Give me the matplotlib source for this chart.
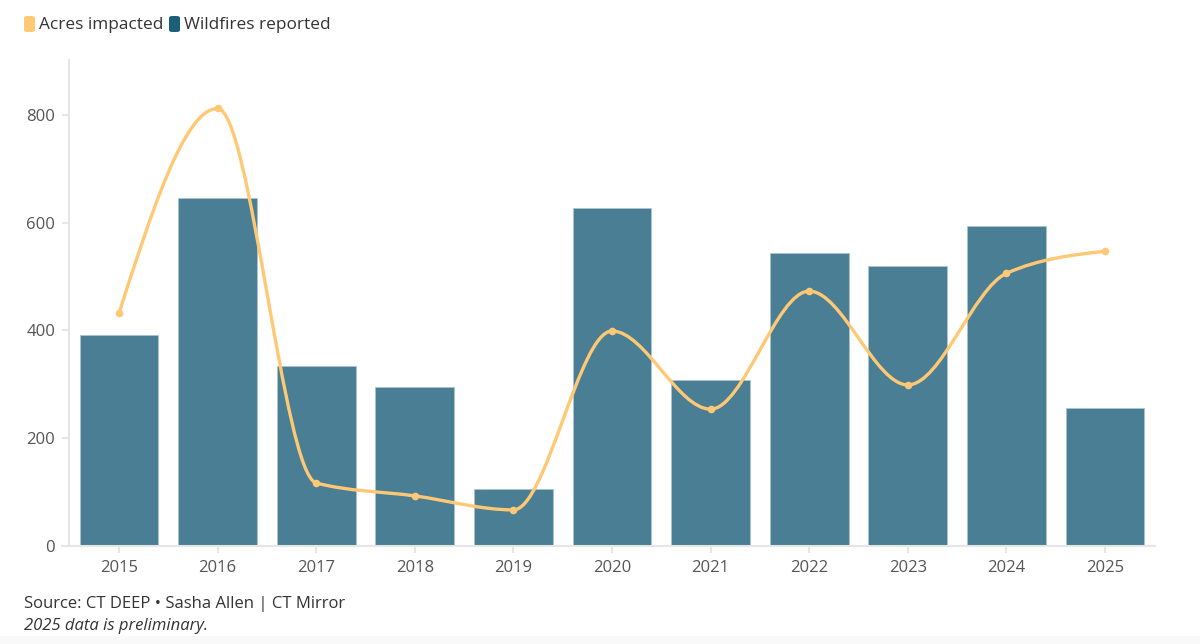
import numpy as np
import matplotlib.pyplot as plt
from matplotlib.path import Path
from matplotlib.patches import PathPatch, FancyBboxPatch
from matplotlib.lines import Line2D

plt.rcParams['font.family'] = ['Open Sans', 'DejaVu Sans']

# data
years = ['2015', '2016', '2017', '2018', '2019', '2020', '2021', '2022', '2023', '2024', '2025']
wildfires = [391, 646, 334, 295, 106, 627, 308, 544, 520, 594, 256]
acres = [432, 812, 117, 93, 67, 399, 254, 473, 299, 506, 547]

bar_color = '#497e94'
line_color = '#ffc875'
text_color = '#555555'
axis_color = '#e6e6e6'


def monotone_path(xs, ys):
    # monotone cubic curve (like d3 curveMonotoneX) as bezier path
    xs = np.asarray(xs, float)
    ys = np.asarray(ys, float)
    n = len(xs)
    h = np.diff(xs)
    s = np.diff(ys) / h
    t = np.zeros(n)
    for i in range(1, n - 1):
        p = (s[i - 1] * h[i] + s[i] * h[i - 1]) / (h[i - 1] + h[i])
        t[i] = (np.sign(s[i - 1]) + np.sign(s[i])) * min(abs(s[i - 1]), abs(s[i]), 0.5 * abs(p))
    t[0] = (3 * s[0] - t[1]) / 2
    t[-1] = (3 * s[-1] - t[-2]) / 2
    verts = [(xs[0], ys[0])]
    codes = [Path.MOVETO]
    for i in range(n - 1):
        dx = h[i] / 3
        verts += [(xs[i] + dx, ys[i] + dx * t[i]),
                  (xs[i + 1] - dx, ys[i + 1] - dx * t[i + 1]),
                  (xs[i + 1], ys[i + 1])]
        codes += [Path.CURVE4] * 3
    return Path(verts, codes)


fig = plt.figure(figsize=(12, 6.44), dpi=100)
W, H = 1200, 644
ax = fig.add_axes([69 / W, (H - 546) / H, (1155 - 69) / W, (546 - 60) / H])

x = np.arange(len(years))
ax.bar(x, wildfires, width=0.8, color=bar_color, edgecolor='#a9c4d1', linewidth=0.6, zorder=2)

ax.add_patch(PathPatch(monotone_path(x, acres), facecolor='none', edgecolor=line_color,
                       linewidth=2.4, capstyle='round', zorder=3))
ax.scatter(x, acres, s=30, color=line_color, zorder=4, linewidths=0)

ax.set_xlim(-0.507, 10.507)
ax.set_ylim(0, 902)
ax.set_xticks(x)
ax.set_xticklabels(years)
ax.set_yticks([0, 200, 400, 600, 800])

for sp in ['top', 'right']:
    ax.spines[sp].set_visible(False)
for sp in ['left', 'bottom']:
    ax.spines[sp].set_color(axis_color)
    ax.spines[sp].set_linewidth(1.5)
ax.tick_params(axis='both', colors=axis_color, labelcolor=text_color, labelsize=12,
               length=5, width=1.5)
ax.tick_params(axis='y', pad=5)
ax.tick_params(axis='x', pad=5)

# baseline extends a little left of the y axis
fig.add_artist(Line2D([62 / W, 69 / W], [(H - 546) / H] * 2, color=axis_color, lw=1.5))

# legend
def swatch(px, color):
    fig.add_artist(FancyBboxPatch((px / W, (H - 32) / H), 11 / W, 16 / H,
                                  boxstyle='round,pad=0,rounding_size=0.003',
                                  transform=fig.transFigure, facecolor=color, edgecolor='none'))

swatch(24, line_color)
fig.text(39 / W, (H - 25) / H, 'Acres impacted', fontsize=12.4, color='#333333', va='center')
swatch(169, '#1a5f7a')
fig.text(184 / W, (H - 25) / H, 'Wildfires reported', fontsize=12.4, color='#333333', va='center')

# footer
fig.patches.append(plt.Rectangle((0, 0), 1, 8 / H, transform=fig.transFigure,
                                 facecolor='#f9f9f9', edgecolor='none', zorder=0))
fig.text(24 / W, (H - 604) / H, 'Source: CT DEEP \u2022 Sasha Allen | CT Mirror',
         fontsize=12, color='#333333', va='center')
fig.text(24 / W, (H - 626) / H, '2025 data is preliminary.', fontsize=12,
         color='#333333', va='center', style='italic')

fig.savefig('out.png', dpi=100, facecolor='white')
